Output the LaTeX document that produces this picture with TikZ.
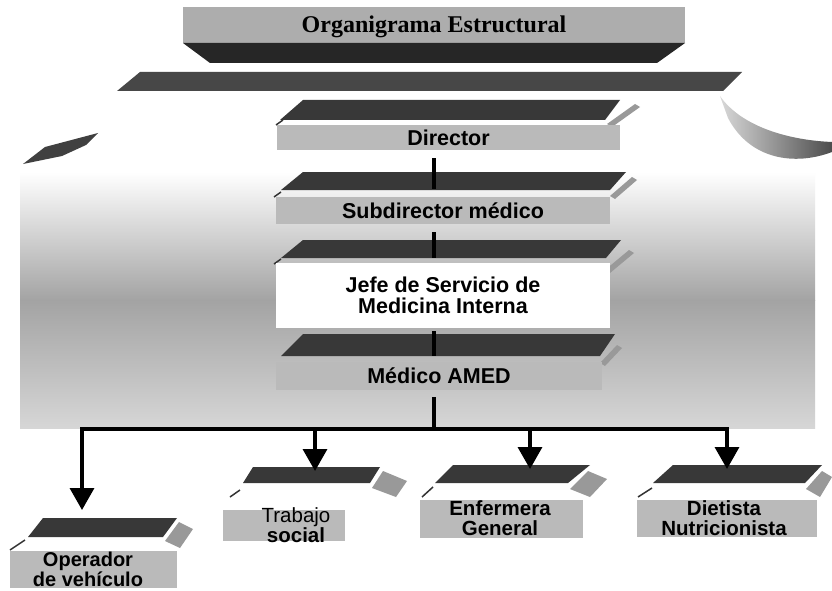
\documentclass[tikz,border=0pt]{standalone}
\usepackage{fontspec}
\setmainfont{Liberation Sans}
\newfontfamily\titlefont{Liberation Serif}
\usetikzlibrary{arrows.meta,calc}
\begin{document}
\begin{tikzpicture}[x=1pt,y=-1pt,
  face/.style={fill=black!27, draw=none, inner sep=0pt, align=center, font=\fontsize{21.5}{20.5}\selectfont\bfseries},
  slab/.style={fill=black!78},
  bevel/.style={fill=black!40},
  tick/.style={line width=1.5pt, draw=black!80},
  conn/.style={line width=3.5pt, draw=black},
  arr/.style={conn, -{Triangle[width=24pt,length=22pt]}},
  lbl/.style={align=center, inner sep=0pt, font=\fontsize{20.5}{20}\selectfont\bfseries}]
\useasboundingbox (0,0) rectangle (832,591);
\fill[white] (0,0) rectangle (832,591);

% background haze
\shade[top color=white, bottom color=black!36] (20,172) rectangle (815,300.5);
\shade[top color=black!36, bottom color=black!16] (20,300) rectangle (815,428);

% title banner
\fill[black!32] (183,7) rectangle (685,43);
\fill[black!85] (183,43) -- (685,43) -- (657,63) -- (210,63) -- cycle;
\fill[black!72] (140,72) -- (742,72) -- (723,91) -- (117,91) -- cycle;
\node[font=\titlefont\bfseries\fontsize{24}{24}\selectfont, inner sep=0pt] (title) at (434,27) {Organigrama Estructural};

% wings
\fill[black!75] (23,164) -- (45,147) -- (98,133) -- (86,145) -- (62,156) -- cycle;
\shade[left color=black!15, right color=black!70] (720,96) .. controls (740,125) and (785,140) .. (832,142) -- (832,152) .. controls (795,166) and (750,160) .. (728,118) -- cycle;

% Director
\fill[slab] (303,100) -- (620,100) -- (605,120) -- (280,120) -- cycle;
\fill[bevel] (607,124) -- (635,104) -- (640,107) -- (612,127) -- cycle;
\draw[tick] (276,125) -- (283,120);
\node[face, minimum width=343pt, minimum height=25pt] (dir) at (448.5,137.5) {Director};

% Subdirector
\fill[slab] (303,172) -- (626,172) -- (610,190) -- (281,190) -- cycle;
\fill[bevel] (610,196) -- (632,177) -- (637,180) -- (615,199) -- cycle;
\draw[tick] (274,197) -- (281,192);
\node[face, minimum width=334pt, minimum height=27pt] (sub) at (443,210.5) {Subdirector médico};

% Jefe
\fill[slab] (303,240) -- (621,240) -- (606,258) -- (281,258) -- cycle;
\fill[bevel] (605,270) -- (629,250) -- (634,253) -- (610,273) -- cycle;
\draw[tick] (274,264) -- (281,259);
\node[face, fill=white, minimum width=334pt, minimum height=65pt] (jefe) at (443,295.5) {Jefe de Servicio de\\Medicina Interna};

% Medico AMED
\fill[slab] (303,334) -- (615,334) -- (600,356) -- (281,356) -- cycle;
\fill[bevel] (600,363) -- (617,345) -- (622,348) -- (605,366) -- cycle;
\node[face, minimum width=326pt, minimum height=28pt] (amed) at (439,376) {Médico AMED};

% Operador
\fill[slab] (43,518) -- (177,518) -- (163,537) -- (28,537) -- cycle;
\fill[bevel] (165,541) -- (179,522) -- (193,529) -- (180,548) -- cycle;
\draw[tick] (10,550) -- (25,540);
\node[face, minimum width=167pt, minimum height=37pt] (op) at (93.5,569.5) {};
\node[lbl, font=\fontsize{20}{17}\selectfont\bfseries] (opL) at (88,569) {Operador\\de vehículo};

% Trabajo social
\fill[slab] (253,467) -- (380,467) -- (370,483) -- (243,483) -- cycle;
\fill[bevel] (372,488) -- (383,471) -- (407,481) -- (396,497) -- cycle;
\draw[tick] (230,497) -- (240,490);
\node[face, minimum width=122pt, minimum height=31pt] (tr) at (284,525.5) {};
\node[lbl, font=\fontsize{20.5}{16}\selectfont\bfseries] (trL) at (296,525) {{\mdseries Trabajo}\\social};

% Enfermera General
\fill[slab] (453,465) -- (590,465) -- (568,483) -- (435,483) -- cycle;
\fill[bevel] (570,489) -- (588,471) -- (607,479) -- (590,497) -- cycle;
\draw[tick] (422,497) -- (433,487);
\node[face, minimum width=163pt, minimum height=38pt] (en) at (501.5,519) {};
\node[lbl] (enL) at (500,518) {Enfermera\\General};

% Dietista Nutricionista
\fill[slab] (673,465) -- (822,465) -- (805,483) -- (653,483) -- cycle;
\fill[bevel] (806,489) -- (822,471) -- (832,477) -- (820,497) -- cycle;
\draw[tick] (638,497) -- (652,488);
\node[face, minimum width=180pt, minimum height=37pt] (di) at (727,518.5) {};
\node[lbl] (diL) at (724,518) {Dietista\\Nutricionista};

% connectors
\coordinate (spine) at (434,0);
\coordinate (busM) at (434,429);
\coordinate (opT) at (82,510);
\coordinate (trT) at (315,471);
\coordinate (enT) at (530,469);
\coordinate (diT) at (727,469);
\draw[conn, shorten <=8pt, shorten >=8pt] (dir.south -| spine) -- (sub.north -| spine);
\draw[conn, shorten <=8pt, shorten >=5pt] (sub.south -| spine) -- (jefe.north -| spine);
\draw[conn, shorten <=3pt, shorten >=6pt] (jefe.south -| spine) -- (amed.north -| spine);
\draw[conn, shorten <=7pt] (amed.south -| spine) -- (busM);
\draw[arr, line join=miter] (busM) -| (opT);
\draw[arr, line join=miter] (busM) -| (diT);
\draw[arr] (busM -| trT) -- (trT);
\draw[arr] (busM -| enT) -- (enT);
\end{tikzpicture}
\end{document}
